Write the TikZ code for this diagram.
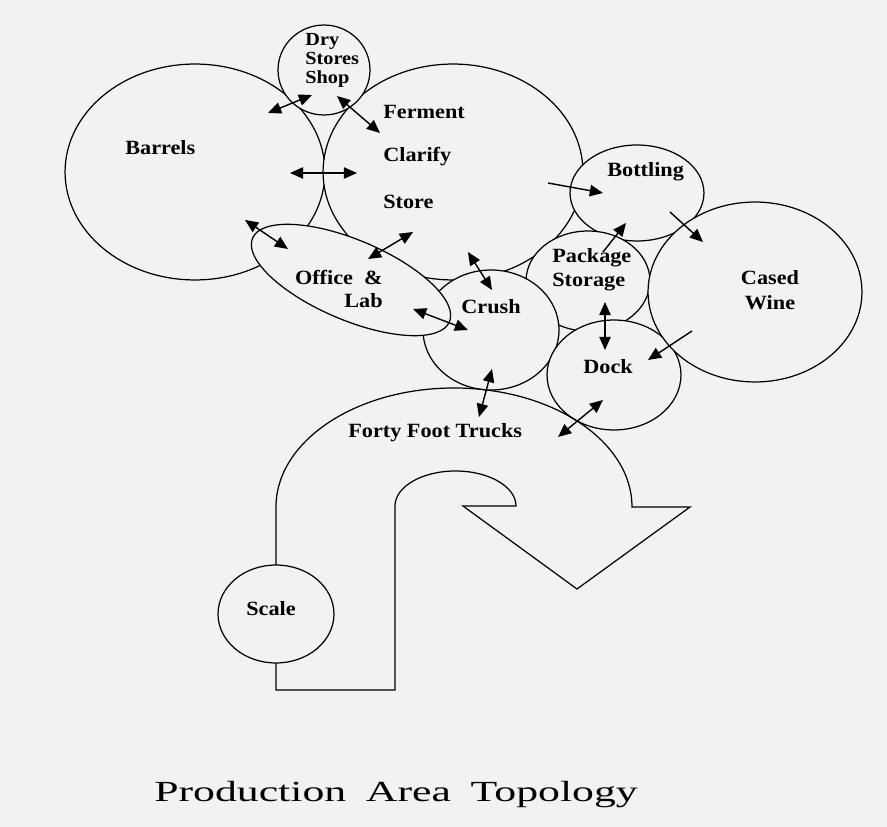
\documentclass[tikz,border=0pt]{standalone}
\usepackage{fontspec}
\setmainfont{Liberation Serif}
\newfontfamily\lblfont{Liberation Serif}[FakeStretch=1.1]
\newfontfamily\titlefont{Liberation Serif}[FakeStretch=1.5, WordSpace=1.8]
\usepackage{tikz}
\usetikzlibrary{shapes.geometric}
\usetikzlibrary{arrows.meta}
\definecolor{paper}{RGB}{242,242,242}

\tikzset{
  bubble/.style 2 args={ellipse, draw, fill=paper, line width=0.7pt,
    inner sep=0pt, minimum width=#1*0.04cm, minimum height=#2*0.04cm},
  lbl/.style={font=\lblfont\bfseries\fontsize{11.5}{13}\selectfont, inner sep=0pt},
  dbl/.style={{Triangle[length=7.5pt,width=6.5pt]}-{Triangle[length=7.5pt,width=6.5pt]}, line width=0.8pt},
  sgl/.style={-{Triangle[length=7.5pt,width=6.5pt]}, line width=0.8pt}
}

\begin{document}
\begin{tikzpicture}[x=0.02cm,y=-0.02cm]
  \fill[paper] (0,0) rectangle (887,827);
  \useasboundingbox (0,0) rectangle (887,827);
  % bubbles, back to front
  \node[bubble={130}{108}] (barrels) at (195,172) {};
  \node[bubble={130}{108}] (ferment) at (453,172) {};
  \node[bubble={46}{45}] (drystores) at (324,70) {};
  \node[bubble={67}{48}] (bottling) at (637,193) {};
  \node[bubble={62}{50}] (package) at (588,281) {};
  \node[bubble={68}{60}] (crush) at (491,330) {};
  \node[bubble={107}{40},rotate=-23] (office) at (351,280) {};
  \node[bubble={67}{55}] (dock) at (614,375) {};
  \node[bubble={107}{90}] (cased) at (755,292) {};
  % trucks
  \draw[line width=0.7pt] (395,690) -- (276,690) -- (276,507)
    arc[start angle=180, end angle=360, x radius=178, y radius=119]
    -- (690,507) -- (577,589) -- (463,506) -- (516,506)
    arc[start angle=0, end angle=-180, x radius=60.5, y radius=35] -- cycle;
  \node[bubble={58}{49}] (scale) at (276,614) {};
  % labels
  \node[lbl,anchor=west] (lbarrels) at (125,148) {Barrels};
  \node[lbl,anchor=west,align=left,font=\lblfont\bfseries\fontsize{10.5}{10.8}\selectfont] (ldry) at (305,60) {Dry\\Stores\\Shop};
  \node[lbl,anchor=west] (lferment) at (383,112) {Ferment};
  \node[lbl,anchor=west] (lclarify) at (383,157) {Clarify};
  \node[lbl,anchor=west] (lstore) at (383,202) {Store};
  \node[lbl,anchor=west] (lbottling) at (607,172) {Bottling};
  \node[lbl,anchor=west,align=left,font=\lblfont\bfseries\fontsize{11.5}{13.6}\selectfont] (lpackage) at (552,270) {Package\\Storage};
  \node[lbl,align=center,font=\lblfont\bfseries\fontsize{11.5}{14}\selectfont] (lcased) at (770,290) {Cased\\Wine};
  \node[lbl,anchor=west] (ldock) at (583,367) {Dock};
  \node[lbl,anchor=west] (lcrush) at (461,307) {Crush};
  \node[lbl,anchor=east,align=right,font=\lblfont\bfseries\fontsize{11.5}{13}\selectfont] (loffice) at (383,289) {Office\ \ \&\\Lab};
  \node[lbl,anchor=west] (ltrucks) at (348,433) {Forty Foot Trucks};
  \node[lbl,anchor=west] (lscale) at (246,609) {Scale};
  \node[font=\titlefont\fontsize{16.6}{19}\selectfont,anchor=base,inner sep=0pt] (title) at (396,802) {Production Area Topology};
  % flows
  \foreach \a/\b in {{(268,113)}/{(312,95)}, {(337,96)}/{(380,133)},
      {(290,173)}/{(357,173)}, {(245,220)}/{(288,249)}, {(368,259)}/{(413,232)},
      {(468,252)}/{(492,290)}, {(413,309)}/{(468,330)}, {(605,302)}/{(605,350)},
      {(492,369)}/{(479,417)}, {(603,400)}/{(558,437)}}
    \draw[dbl] \a -- \b;
  \foreach \a/\b in {{(548,183)}/{(603,193)}, {(603,252)}/{(626,223)},
      {(670,212)}/{(703,242)}, {(692,331)}/{(648,360)}}
    \draw[sgl] \a -- \b;
\end{tikzpicture}
\end{document}
